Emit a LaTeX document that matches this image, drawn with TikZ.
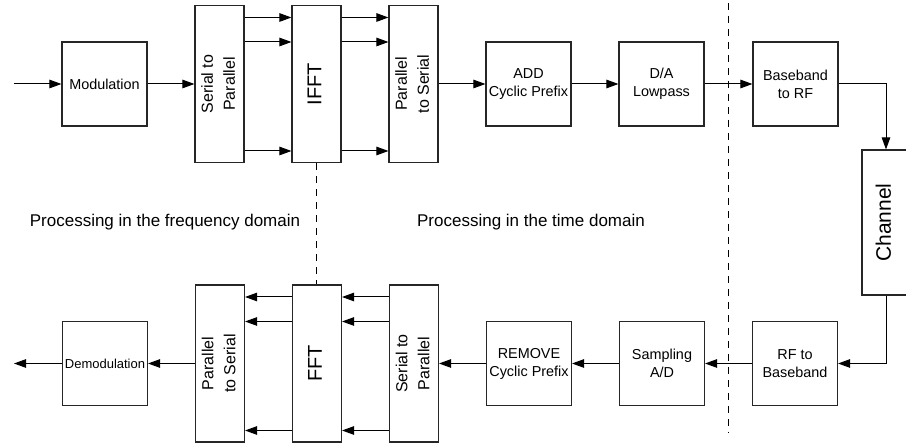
\documentclass[tikz,border=0pt]{standalone}
\usepackage{fontspec}
\setmainfont{Liberation Sans}
\usepackage{graphicx}
\usetikzlibrary{arrows.meta}
\newcommand{\vlabel}[1]{\rotatebox{90}{\begin{tabular}{@{}c@{}}#1\end{tabular}}}

\begin{document}
\begin{tikzpicture}[
  x=1pt, y=1pt,
  block/.style={rectangle, draw=black!85, line width=1.1pt, minimum width=85pt, minimum height=84pt, inner sep=1pt, align=center, font=\fontsize{14.4}{18}\selectfont},
  tall/.style={rectangle, draw=black!85, line width=1.1pt, minimum width=49pt, minimum height=157pt, inner sep=0pt, font=\fontsize{16}{22}\selectfont},
  big/.style={tall, font=\fontsize{20}{24}\selectfont},
  link/.style={-{Triangle[length=12pt,width=8.5pt]}, line width=1pt},
  divider/.style={dash pattern=on 7pt off 6pt, line width=1pt},
  note/.style={font=\fontsize{17}{20}\selectfont}
]
\useasboundingbox (0,0) rectangle (906,-443);

% transmitter
\node[block] (mod) at (104.5,-84) {Modulation};
\node[tall, right of=mod, node distance=115pt] (sp1) {\vlabel{Serial to\\Parallel}};
\node[big, right of=sp1, node distance=97pt] (ifft) {\vlabel{IFFT}};
\node[tall, right of=ifft, node distance=97pt] (ps1) {\vlabel{Parallel\\to Serial}};
\node[block, right of=ps1, node distance=115pt] (addcp) {ADD\\Cyclic Prefix};
\node[block, right of=addcp, node distance=133pt] (da) {D/A\\Lowpass};
\node[block, right of=da, node distance=134pt] (bb2rf) {Baseband\\to RF};

\node[big, minimum width=48pt, minimum height=145pt, font=\fontsize{21}{24}\selectfont] (chan) at (886,-222.5) {\vlabel{Channel}};

% receiver
\node[block, font=\fontsize{13}{16}\selectfont] (demod) at (105,-363.5) {Demodulation};
\node[tall, right of=demod, node distance=115pt] (ps2) {\vlabel{Parallel\\to Serial}};
\node[big, right of=ps2, node distance=97pt] (fft) {\vlabel{FFT}};
\node[tall, right of=fft, node distance=97pt] (sp2) {\vlabel{Serial to\\Parallel}};
\node[block, right of=sp2, node distance=115pt] (remcp) {REMOVE\\Cyclic Prefix};
\node[block, right of=remcp, node distance=133pt] (ad) {Sampling\\A/D};
\node[block, right of=ad, node distance=133pt] (rf2bb) {RF to\\Baseband};

\coordinate (in) at (14,-84);
\coordinate (out) at (14,-363.5);
\coordinate (divtop) at (728,-3);
\coordinate (divbot) at (728,-433);

\draw[link] (in) -- (mod);
\draw[link] (mod) -- (sp1);
\foreach \s in {66.5,42,-67} {
  \draw[link] ([yshift=\s pt]sp1.east) -- ([yshift=\s pt]ifft.west);
  \draw[link] ([yshift=\s pt]ifft.east) -- ([yshift=\s pt]ps1.west);
  \draw[link] ([yshift=\s pt]sp2.west) -- ([yshift=\s pt]fft.east);
  \draw[link] ([yshift=\s pt]fft.west) -- ([yshift=\s pt]ps2.east);
}
\draw[link] (ps1) -- (addcp);
\draw[link] (addcp) -- (da);
\draw[link] (da) -- (bb2rf);
\draw[link] (bb2rf.east) -| (chan.north);
\draw[link] (chan.south) |- (rf2bb.east);
\draw[link] (rf2bb) -- (ad);
\draw[link] (ad) -- (remcp);
\draw[link] (remcp) -- (sp2);
\draw[link] (ps2) -- (demod);
\draw[link] (demod) -- (out);

\draw[divider] (ifft.south) -- (ifft.south |- fft.north);
\draw[divider] (divtop) -- (divbot);

\node[note] (freq) at (165,-222) {Processing in the frequency domain};
\node[note] (time) at (531,-222) {Processing in the time domain};
\end{tikzpicture}
\end{document}
